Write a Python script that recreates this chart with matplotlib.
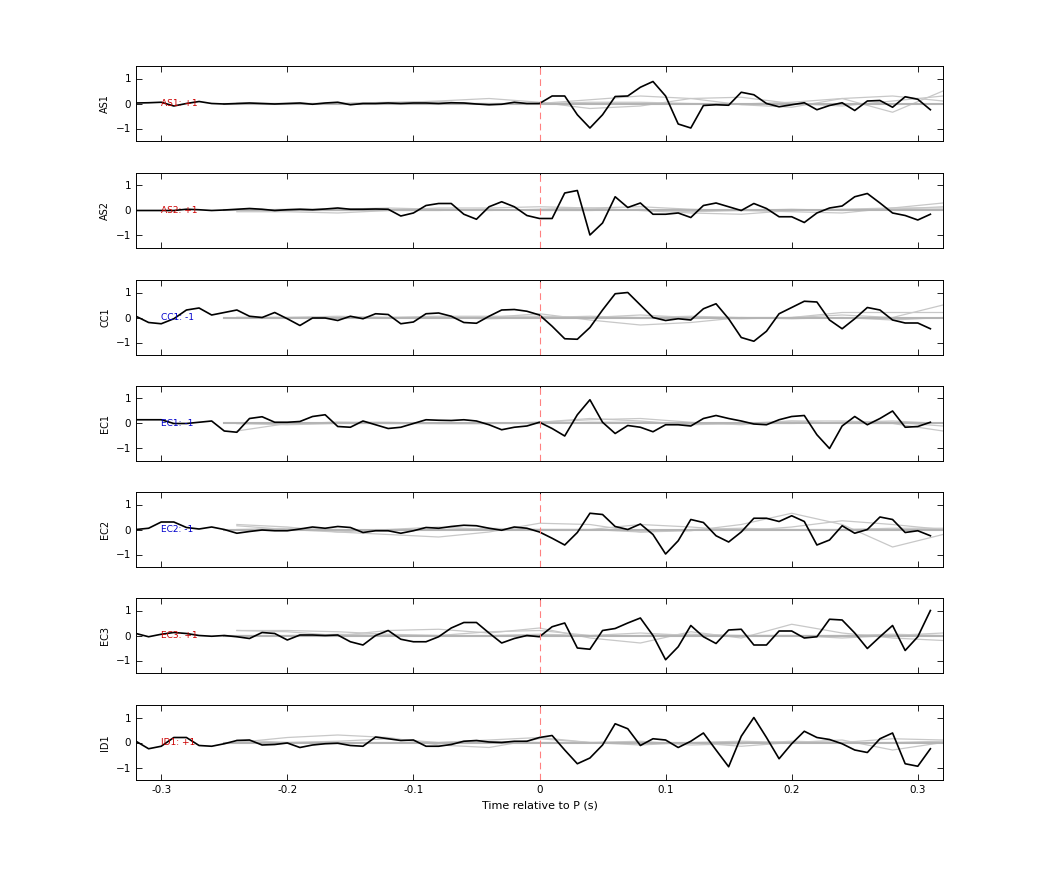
import numpy as np
import matplotlib.pyplot as plt

# time axis of the traces (s)
t = np.round(np.arange(-0.32, 0.315, 0.01), 2)
# time axis of the grey (other) traces
tg = np.round(np.arange(-0.24, 0.33, 0.04), 2)

stations = ["AS1", "AS2", "CC1", "EC1", "EC2", "EC3", "ID1"]
polarity = ["+1", "+1", "-1", "-1", "-1", "+1", "+1"]

as1 = [0.02, 0.03, 0.05, -0.1, 0.0, 0.08, 0.0, -0.02, 0.0, 0.02, 0.0, -0.02, 0.0, 0.02, -0.03, 0.02,
       0.05, -0.05, 0.0, 0.0, 0.02, 0.0, 0.02, 0.02, 0.0, 0.03, 0.02, -0.02, -0.05, -0.03, 0.05, 0.0,
       0.0, 0.3, 0.3, -0.45, -0.98, -0.45, 0.28, 0.3, 0.65, 0.88, 0.3, -0.82, -0.98, -0.08, -0.05, -0.07,
       0.45, 0.35, 0.0, -0.13, -0.05, 0.03, -0.25, -0.08, 0.03, -0.28, 0.1, 0.12, -0.15, 0.27, 0.17, -0.25]
as2 = [0.0, 0.0, 0.0, 0.0, 0.05, 0.03, 0.0, 0.02, 0.05, 0.08, 0.05, 0.0, 0.03, 0.05, 0.03, 0.06,
       0.1, 0.05, 0.05, 0.06, 0.05, -0.22, -0.1, 0.2, 0.28, 0.28, -0.15, -0.35, 0.15, 0.35, 0.15, -0.2,
       -0.32, -0.32, 0.7, 0.8, -0.98, -0.5, 0.55, 0.12, 0.3, -0.15, -0.15, -0.1, -0.28, 0.2, 0.3, 0.15,
       0.0, 0.28, 0.08, -0.25, -0.25, -0.48, -0.1, 0.1, 0.18, 0.55, 0.68, 0.3, -0.1, -0.2, -0.38, -0.15]
cc1 = [0.05, -0.2, -0.25, -0.05, 0.3, 0.38, 0.1, 0.2, 0.3, 0.05, 0.0, 0.2, -0.05, -0.32, -0.02, -0.02,
       -0.12, 0.05, -0.05, 0.15, 0.12, -0.25, -0.18, 0.15, 0.18, 0.05, -0.2, -0.23, 0.05, 0.3, 0.32, 0.25,
       0.1, -0.35, -0.85, -0.87, -0.4, 0.3, 0.95, 1.0, 0.5, 0.0, -0.12, -0.05, -0.1, 0.35, 0.55, -0.05,
       -0.8, -0.95, -0.55, 0.15, 0.4, 0.65, 0.62, -0.1, -0.45, -0.05, 0.4, 0.3, -0.1, -0.22, -0.22, -0.45]
ec1 = [0.15, 0.15, 0.15, 0.0, 0.0, 0.05, 0.1, -0.3, -0.35, 0.2, 0.27, 0.05, 0.05, 0.08, 0.28, 0.35,
       -0.12, -0.15, 0.1, -0.05, -0.2, -0.15, 0.0, 0.15, 0.13, 0.12, 0.15, 0.1, -0.05, -0.25, -0.15, -0.1,
       0.05, -0.2, -0.5, 0.35, 0.95, 0.05, -0.4, -0.08, -0.15, -0.33, -0.05, -0.05, -0.1, 0.2, 0.32, 0.2,
       0.1, -0.02, -0.05, 0.15, 0.28, 0.32, -0.45, -1.0, -0.1, 0.28, -0.05, 0.2, 0.5, -0.15, -0.12, 0.05]
ec2 = [0.0, 0.05, 0.3, 0.3, 0.08, 0.02, 0.1, 0.0, -0.15, -0.08, -0.02, -0.05, -0.05, 0.02, 0.1, 0.05,
       0.12, 0.08, -0.12, -0.05, -0.05, -0.15, -0.05, 0.08, 0.05, 0.12, 0.17, 0.15, 0.05, -0.03, 0.1, 0.05,
       -0.1, -0.35, -0.62, -0.12, 0.65, 0.6, 0.12, 0.0, 0.22, -0.2, -0.98, -0.45, 0.4, 0.28, -0.25, -0.5,
       -0.1, 0.45, 0.45, 0.32, 0.55, 0.32, -0.62, -0.42, 0.15, -0.15, 0.0, 0.5, 0.4, -0.12, -0.05, -0.25]
ec3 = [0.08, -0.05, 0.05, 0.12, 0.08, 0.0, -0.03, 0.0, -0.05, -0.12, 0.12, 0.08, -0.18, 0.02, 0.02, 0.0,
       0.02, -0.25, -0.38, 0.0, 0.2, -0.15, -0.25, -0.25, -0.05, 0.3, 0.52, 0.52, 0.1, -0.3, -0.12, 0.0,
       -0.05, 0.35, 0.5, -0.5, -0.55, 0.2, 0.28, 0.5, 0.7, 0.0, -0.97, -0.45, 0.4, -0.05, -0.32, 0.22,
       0.25, -0.38, -0.38, 0.18, 0.18, -0.1, -0.05, 0.65, 0.62, 0.1, -0.52, -0.05, 0.4, -0.6, -0.05, 1.0]
id1 = [0.05, -0.25, -0.15, 0.2, 0.2, -0.12, -0.15, -0.05, 0.08, 0.1, -0.1, -0.08, -0.02, -0.2, -0.1, -0.05,
       -0.03, -0.12, -0.15, 0.22, 0.15, 0.08, 0.1, -0.15, -0.15, -0.08, 0.05, 0.08, 0.02, 0.0, 0.05, 0.05,
       0.2, 0.28, -0.3, -0.85, -0.62, -0.1, 0.75, 0.55, -0.12, 0.15, 0.1, -0.2, 0.05, 0.38, -0.3, -0.97,
       0.25, 1.0, 0.2, -0.65, -0.05, 0.45, 0.2, 0.12, -0.05, -0.3, -0.4, 0.15, 0.38, -0.85, -0.95, -0.25]
traces = [as1, as2, cc1, ec1, ec2, ec3, id1]

# grey traces (other events), three per station
grey = [
    [[0.0, 0.0, 0.0, 0.02, 0.1, 0.2, 0.05, -0.2, -0.1, 0.2, 0.25, 0.0, -0.1, 0.1, 0.3],
     [0.0, -0.02, 0.0, 0.05, 0.08, -0.05, 0.0, 0.15, 0.3, 0.2, -0.05, -0.15, 0.2, 0.3, 0.1],
     [0.0, 0.0, 0.0, 0.0, 0.02, 0.0, 0.0, 0.05, 0.05, 0.0, -0.02, 0.05, 0.2, -0.35, 0.5]],
    [[-0.05, -0.05, -0.1, 0.0, 0.1, 0.1, 0.15, 0.1, 0.0, -0.1, -0.15, 0.0, 0.05, 0.1, 0.3],
     [0.0, 0.05, 0.05, 0.1, 0.05, 0.0, 0.05, 0.1, 0.15, 0.05, 0.0, -0.05, -0.1, 0.1, 0.1],
     [0.0, 0.0, 0.0, 0.0, 0.0, 0.05, 0.0, 0.0, 0.05, -0.05, 0.0, 0.05, 0.0, 0.05, 0.15]],
    [[0.0, 0.0, 0.0, 0.0, 0.0, 0.0, 0.15, -0.1, -0.3, -0.2, 0.0, 0.0, 0.1, 0.0, 0.5],
     [0.0, 0.0, 0.05, 0.0, 0.05, 0.05, 0.05, 0.0, 0.1, 0.0, -0.05, 0.0, 0.2, 0.2, 0.2],
     [0.0, 0.0, 0.0, 0.0, 0.0, -0.05, 0.0, 0.05, 0.0, 0.05, 0.0, -0.05, 0.0, -0.1, 0.0]],
    [[-0.3, 0.0, 0.05, 0.0, 0.0, 0.0, 0.05, 0.2, 0.1, -0.05, 0.0, 0.1, 0.0, 0.0, -0.3],
     [0.0, 0.0, 0.05, 0.05, 0.0, 0.0, 0.05, 0.15, 0.2, 0.05, -0.05, 0.1, 0.1, 0.05, -0.1],
     [0.0, -0.05, 0.0, 0.0, 0.0, 0.0, 0.0, 0.05, 0.05, 0.0, 0.0, 0.0, 0.05, 0.1, 0.0]],
    [[0.2, 0.1, -0.1, -0.2, -0.3, -0.1, 0.25, 0.2, -0.1, -0.05, 0.2, 0.65, 0.2, -0.7, -0.2],
     [0.15, 0.0, -0.1, 0.0, 0.1, 0.0, 0.0, 0.0, 0.2, 0.1, -0.05, 0.1, 0.35, 0.2, 0.0],
     [0.0, 0.05, 0.0, -0.05, 0.0, 0.05, 0.0, 0.0, -0.1, 0.0, 0.05, 0.0, 0.0, 0.05, 0.05]],
    [[0.2, 0.15, 0.0, 0.2, 0.25, 0.1, 0.3, -0.1, -0.3, 0.15, -0.1, 0.45, 0.1, -0.1, -0.2],
     [0.2, 0.2, 0.15, 0.05, 0.0, 0.15, 0.2, 0.0, 0.1, 0.0, 0.0, 0.0, -0.1, 0.0, 0.1],
     [0.0, 0.0, 0.05, 0.0, 0.0, 0.0, 0.05, 0.0, 0.0, 0.05, 0.0, 0.0, 0.0, 0.05, 0.0]],
    [[0.0, 0.2, 0.3, 0.2, -0.1, -0.2, 0.15, 0.0, -0.1, 0.0, -0.15, 0.0, 0.1, -0.3, 0.0],
     [0.1, 0.0, 0.05, 0.15, 0.0, 0.1, 0.2, 0.0, 0.05, -0.1, -0.05, 0.05, 0.0, 0.15, 0.1],
     [0.0, 0.0, 0.0, 0.0, 0.0, 0.05, 0.0, 0.0, 0.0, 0.0, 0.05, 0.0, 0.0, 0.0, 0.05]],
]

fig = plt.figure(figsize=(10.42, 8.75), dpi=100)
W, H = 1042, 875
tops = [66, 173, 280, 386, 492, 598, 705]
ph = 75
for i, name in enumerate(stations):
    ax = fig.add_axes([136 / W, 1 - (tops[i] + ph) / H, 807 / W, ph / H])
    for g in grey[i]:
        ax.plot(tg, g, color="#c8c8c8", lw=0.9)
    ax.plot([-0.25, 0.32], [0, 0], color="#b4b4b4", lw=1.5)
    ax.plot(t, traces[i], color="black", lw=1.2)
    ax.axvline(0, color="#ff8080", lw=0.8, ls=(0, (6, 4)))
    col = "#cc0000" if polarity[i] == "+1" else "#0000cc"
    ax.text(-0.30, 0, f"{name}: {polarity[i]}", color=col, fontsize=6.5, va="center")
    ax.set_xlim(-0.32, 0.32)
    ax.set_ylim(-1.5, 1.5)
    ax.set_yticks([-1, 0, 1])
    ax.set_xticks([-0.3, -0.2, -0.1, 0, 0.1, 0.2, 0.3])
    ax.tick_params(direction="in", top=True, right=True, labelsize=7.5, length=4, width=0.6)
    for s in ax.spines.values():
        s.set_linewidth(0.7)
    ax.set_ylabel(name, fontsize=7)
    if i < 6:
        ax.set_xticklabels([])
    else:
        ax.set_xticklabels(["-0.3", "-0.2", "-0.1", "0", "0.1", "0.2", "0.3"])
        ax.set_xlabel("Time relative to P (s)", fontsize=8)

fig.savefig("out.png", dpi=100)
